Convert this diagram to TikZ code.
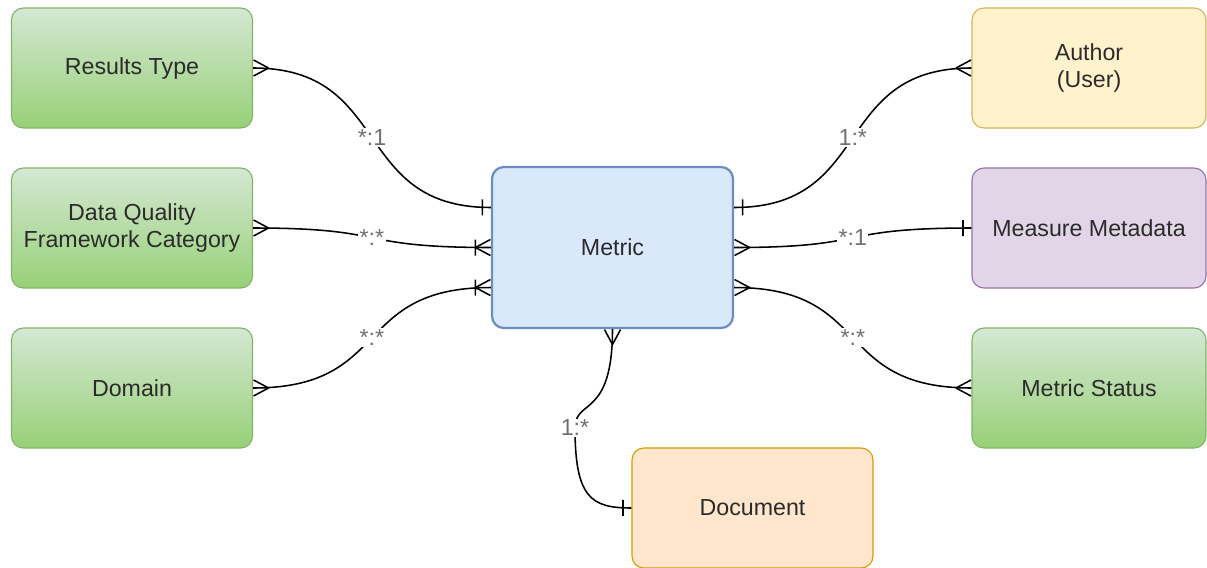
\documentclass[tikz,border=0pt]{standalone}
\usepackage{fontspec}
\setmainfont{Liberation Sans}
\usetikzlibrary{calc,decorations.markings}

\definecolor{greenTop}{HTML}{D5E8D4}
\definecolor{greenBot}{HTML}{97D077}
\definecolor{greenLine}{HTML}{82B366}
\definecolor{blueFill}{HTML}{DAE8FC}
\definecolor{blueLine}{HTML}{6C8EBF}
\definecolor{yellowFill}{HTML}{FFF2CC}
\definecolor{yellowLine}{HTML}{D6B656}
\definecolor{purpleFill}{HTML}{E1D5E7}
\definecolor{purpleLine}{HTML}{9673A6}
\definecolor{orangeFill}{HTML}{FFE6CC}
\definecolor{orangeLine}{HTML}{D79B00}
\definecolor{textGray}{HTML}{2B2B2B}
\definecolor{cardGray}{HTML}{707070}

\begin{document}
\begin{tikzpicture}[x=0.025cm, y=-0.025cm, line width=1.1pt,
	font=\fontsize{16.5}{19.5}\selectfont,
	entity/.style={rounded corners=0.3cm, minimum width=6.025cm, minimum height=3cm,
		align=center, text=textGray, line width=0.8pt},
	greenbox/.style={entity, draw=greenLine, top color=greenTop, bottom color=greenBot},
	card/.style={fill=white, text=cardGray, inner sep=1pt},
	many start/.style={postaction={decorate, decoration={markings,
		mark=at position 0.3pt with {\draw (15,0) -- (0,8) (15,0) -- (0,-8);}}}},
	many end/.style={postaction={decorate, decoration={markings,
		mark=at position -0.3pt with {\draw (-15,0) -- (0,8) (-15,0) -- (0,-8);}}}},
	oneplus end/.style={postaction={decorate, decoration={markings,
		mark=at position -0.3pt with {\draw (-15,0) -- (0,8) (-15,0) -- (0,-8) (-15,8) -- (-15,-8);}}}},
	one start/.style={postaction={decorate, decoration={markings,
		mark=at position 0.3pt with {\draw (8,8) -- (8,-8);}}}},
	one end/.style={postaction={decorate, decoration={markings,
		mark=at position -0.3pt with {\draw (-8,8) -- (-8,-8);}}}}]

	%% draw help lines
	% \draw[step=40, help lines] (0,0) grid (1207,567);

	\useasboundingbox (0,0) rectangle (1207,567);

	% entities
	\node[greenbox] (results) at (132,68) {Results Type};
	\node[greenbox] (dqf) at (132,228) {Data Quality\\Framework Category};
	\node[greenbox] (domain) at (132,388) {Domain};

	\node[entity, draw=blueLine, fill=blueFill, line width=1.6pt, minimum height=4.025cm] (metric) at (612.5,247.5) {Metric};

	\node[entity, draw=yellowLine, fill=yellowFill, minimum width=5.85cm] (author) at (1089,68) {Author\\(User)};
	\node[entity, draw=purpleLine, fill=purpleFill, minimum width=5.85cm] (measure) at (1089,228) {Measure Metadata};
	\node[greenbox, minimum width=5.85cm] (status) at (1089,388) {Metric Status};

	\node[entity, draw=orangeLine, fill=orangeFill] (document) at (752.5,508) {Document};

	% left relations
	\draw[many start, one end] (results.east) .. controls +(140,0) and +(-140,0) .. ([yshift=1cm]metric.west) node[card, midway] {*:1};
	\draw[many start, oneplus end] (dqf.east) .. controls +(140,0) and +(-140,0) .. (metric.west) node[card, midway] {*:*};
	\draw[many start, oneplus end] (domain.east) .. controls +(140,0) and +(-140,0) .. ([yshift=-1cm]metric.west) node[card, midway] {*:*};

	% right relations
	\draw[one start, many end] ([yshift=1cm]metric.east) .. controls +(140,0) and +(-140,0) .. (author.west) node[card, midway] {1:*};
	\draw[many start, one end] (metric.east) .. controls +(140,0) and +(-140,0) .. (measure.west) node[card, midway] {*:1};
	\draw[many start, many end] ([yshift=-1cm]metric.east) .. controls +(140,0) and +(-140,0) .. (status.west) node[card, midway] {*:*};

	% bottom relation
	\draw[many start, one end] (metric.south) .. controls +(0,90) and +(0,-30) .. (575,428) node[card] {1:*}
		.. controls +(0,70) and +(-40,0) .. (document.west);

\end{tikzpicture}
\end{document}
